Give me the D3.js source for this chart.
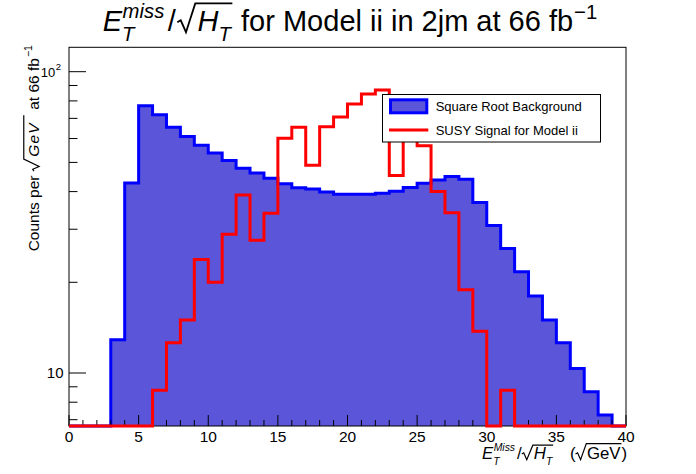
<!DOCTYPE html>
<html><head><meta charset="utf-8">
<script src="https://cdn.jsdelivr.net/npm/d3@7"></script>
<style>body{margin:0;background:#fff}svg{display:block}text{font-family:"Liberation Sans",Arial,Helvetica,sans-serif;fill:#000;white-space:pre}</style>
</head><body><svg id="c" width="696" height="474"></svg>
<script>
// ---- data ----
const binEdges = [0,1,2,3,4,5,6,7,8,9,10,11,12,13,14,15,16,17,18,19,20,21,22,23,24,25,26,27,28,29,30,31,32,33,34,35,36,37,38,39,40];
const background = [0,0,0,12.9,42.7,77.1,71.9,65.4,61.0,57.0,53.7,50.7,47.8,46.1,44.3,42.5,41.2,40.8,39.9,39.2,39.2,39.2,39.5,40.1,41.3,42.6,43.7,44.9,44.0,36.8,30.9,25.9,21.7,18.0,15.0,12.6,10.35,8.66,7.25,0];
const signal = [0,0,0,0,0,0,8.76,12.6,15.0,23.8,20.0,28.9,39.0,27.6,33.9,60.1,65.4,48.9,65.6,70.8,78.1,84.4,87.0,45.2,80.0,56.8,40.0,34.0,18.9,13.75,0,8.76,0,0,0,0,0,0,0,0];
const xTickLabels = [0,5,10,15,20,25,30,35,40];
const xMinorTicks = binEdges;
const yMajorTicks = [10,100];
const yMinorTicks = [7,8,9,20,30,40,50,60,70,80,90];
const legendLabels = ["Square Root Background","SUSY Signal for Model ii"];

// ---- geometry ----
const L=69, R=626, T=47.3, B=426;
const yMin=6.67, yMax=120.5;
const svg = d3.select("#c");
const x = d3.scaleLinear().domain([0,40]).range([L,R]);
const y = d3.scaleLog().domain([yMin,yMax]).range([B,T]);
const yc = v => y(Math.max(v, yMin));
const fillCol = "#5a55d9";

function stepPts(vals){
  const p = vals.map((v,i)=>[binEdges[i], v]);
  p.push([binEdges[vals.length], vals[vals.length-1]]);
  return p;
}
const line = d3.line().curve(d3.curveStepAfter).x(d=>x(d[0])).y(d=>yc(d[1]));
const area = d3.area().curve(d3.curveStepAfter).x(d=>x(d[0])).y0(B).y1(d=>yc(d[1]));

// background histogram
svg.append("path").attr("d", area(stepPts(background))).attr("fill", fillCol);
svg.append("path").attr("d", line(stepPts(background))).attr("fill","none").attr("stroke","#0000ff").attr("stroke-width",3);

// frame
svg.append("rect").attr("x",L).attr("y",T).attr("width",R-L).attr("height",B-T).attr("fill","none").attr("stroke","#000").attr("stroke-width",1);

// ticks
const ax = svg.append("g").attr("stroke","#000").attr("stroke-width",1);
xMinorTicks.forEach(v=>{
  const major = xTickLabels.includes(v);
  ax.append("line").attr("x1",x(v)).attr("x2",x(v)).attr("y1",B).attr("y2",B-(major?11:6));
});
yMinorTicks.forEach(v=>{
  ax.append("line").attr("x1",L).attr("x2",L+8.5).attr("y1",y(v)).attr("y2",y(v));
});
yMajorTicks.forEach(v=>{
  ax.append("line").attr("x1",L).attr("x2",L+17).attr("y1",y(v)).attr("y2",y(v));
});
xTickLabels.forEach(v=>{
  svg.append("text").attr("x",x(v)).attr("y",442.3).attr("text-anchor","middle").attr("font-size",15.5).text(v);
});

// one <text> per label; pieces are tspans with absolute positions
function piece(t, px, py, s, size, italic, extra){
  const ts = t.append("tspan").attr("x",px).attr("y",py).attr("font-size",size).text(s);
  if(italic) ts.attr("font-style","italic");
  if(extra) ts.attr("letter-spacing",extra);
  return ts.node().getComputedTextLength();
}
function radical(g, sx, ex, F, h, sw, wRad){
  const w = wRad || 0.56*F;
  g.append("path").attr("d",`M${sx},${-0.3*F} L${sx+0.12*F},${-0.37*F} L${sx+0.3*F},${0.04*F} L${sx+w},${-h*F} L${ex},${-h*F}`)
   .attr("fill","none").attr("stroke","#000").attr("stroke-width",sw).attr("stroke-linejoin","miter");
}

// y tick labels
(function(){
  svg.append("text").attr("x",63.5).attr("y",y(10)+5.4).attr("text-anchor","end").attr("font-size",15).text(yMajorTicks[0]);
  const t = svg.append("text");
  const wb = piece(t, 0, y(100)+5.5, "10", 13, false);
  const ws = piece(t, 0, y(100)-1.5, "2", 9.5, false);
  t.selectAll("tspan").filter((d,i)=>i===0).attr("x", 61-ws-0.5-wb);
  t.selectAll("tspan").filter((d,i)=>i===1).attr("x", 61-ws);
})();

// signal histogram
svg.append("path").attr("d", line(stepPts(signal))).attr("fill","none").attr("stroke","#ff0000").attr("stroke-width",3);

// title
(function(){
  const F=29, g=svg.append("g"), t=g.append("text");
  let cx=0;
  const wE = piece(t,cx,0,"E",F,true);
  const ws = piece(t,wE+0.5,-0.44*F,"miss",0.7*F,true);
  const wt = piece(t,wE,0.36*F,"T",0.7*F,true);
  cx = Math.max(wE+0.5+ws, wE+wt)+0.12*F;
  cx += piece(t,cx,0,"/",F,false)+0.05*F;
  const sx=cx; cx+=0.7*F;
  cx += piece(t,cx,0,"H",F,true);
  cx += piece(t,cx,0.36*F,"T",0.7*F,true)+0.05*F;
  radical(g,sx,cx,F,0.95,1.8,0.62*F);
  cx += 0.3*F;
  cx += piece(t,cx,0,"for Model ii in 2jm at 66 fb",F,false);
  cx += piece(t,cx+1,-0.42*F,"\u22121",0.7*F,false)+1;
  g.attr("transform",`translate(${350-cx/2},31)`);
})();

// x axis title
(function(){
  const F=16.8, g=svg.append("g"), t=g.append("text");
  let cx=0;
  const wE = piece(t,cx,0,"E",F,true);
  const ws = piece(t,wE+0.5,-0.47*F,"Miss",0.62*F,true);
  const wt = piece(t,wE,0.36*F,"T",0.62*F,true);
  cx = Math.max(wE+0.5+ws, wE+wt)+0.12*F;
  cx += piece(t,cx,0,"/",F,false);
  let sx=cx; cx+=0.72*F;
  cx += piece(t,cx,0,"H",F,true);
  cx += piece(t,cx,0.36*F,"T",0.62*F,true)+0.05*F;
  radical(g,sx,cx,F,0.82,1.2,0.66*F);
  cx += 1.0*F;
  cx += piece(t,cx,0,"(",F,false);
  sx=cx; cx+=0.68*F;
  cx += piece(t,cx,0,"GeV",F,false)+0.05*F;
  radical(g,sx,cx,F,0.92,1.2,0.64*F);
  cx += piece(t,cx,0,")",F,false);
  g.attr("transform",`translate(${627-cx},459)`);
})();

// y axis title
(function(){
  const F=15.5, g=svg.append("g"), t=g.append("text");
  let cx=0;
  cx += piece(t,cx,0,"Counts per",F,false)+0.28*F;
  const sx=cx; cx+=0.8*F;
  const gx = cx+2;
  const wg = piece(t,gx,0,"GeV",F,true,"1.2");
  cx = gx + wg;
  const ex = Math.max(cx+0.2*F, sx+56);
  radical(g,sx,ex,F,0.95,1.2,0.78*F);
  cx = ex+0.35*F;
  cx += piece(t,cx,0,"at 66 fb",F,false);
  cx += piece(t,cx+1,-0.42*F,"\u22121",0.68*F,false)+1;
  g.attr("transform",`translate(38.5,${45+cx}) rotate(-90)`);
})();

// legend
(function(){
  const g = svg.append("g");
  g.append("rect").attr("x",382.5).attr("y",94.5).attr("width",218).attr("height",47.5).attr("fill","#fff").attr("stroke","#000").attr("stroke-width",1);
  g.append("rect").attr("x",390.5).attr("y",99.8).attr("width",36.3).attr("height",13).attr("fill",fillCol).attr("stroke","#0000ff").attr("stroke-width",3);
  g.append("line").attr("x1",389).attr("x2",428.3).attr("y1",130).attr("y2",130).attr("stroke","#ff0000").attr("stroke-width",3);
  g.append("text").attr("x",435.7).attr("y",110.8).attr("font-size",13).text(legendLabels[0]);
  g.append("text").attr("x",435.7).attr("y",134.8).attr("font-size",13).text(legendLabels[1]);
})();
</script></body></html>
